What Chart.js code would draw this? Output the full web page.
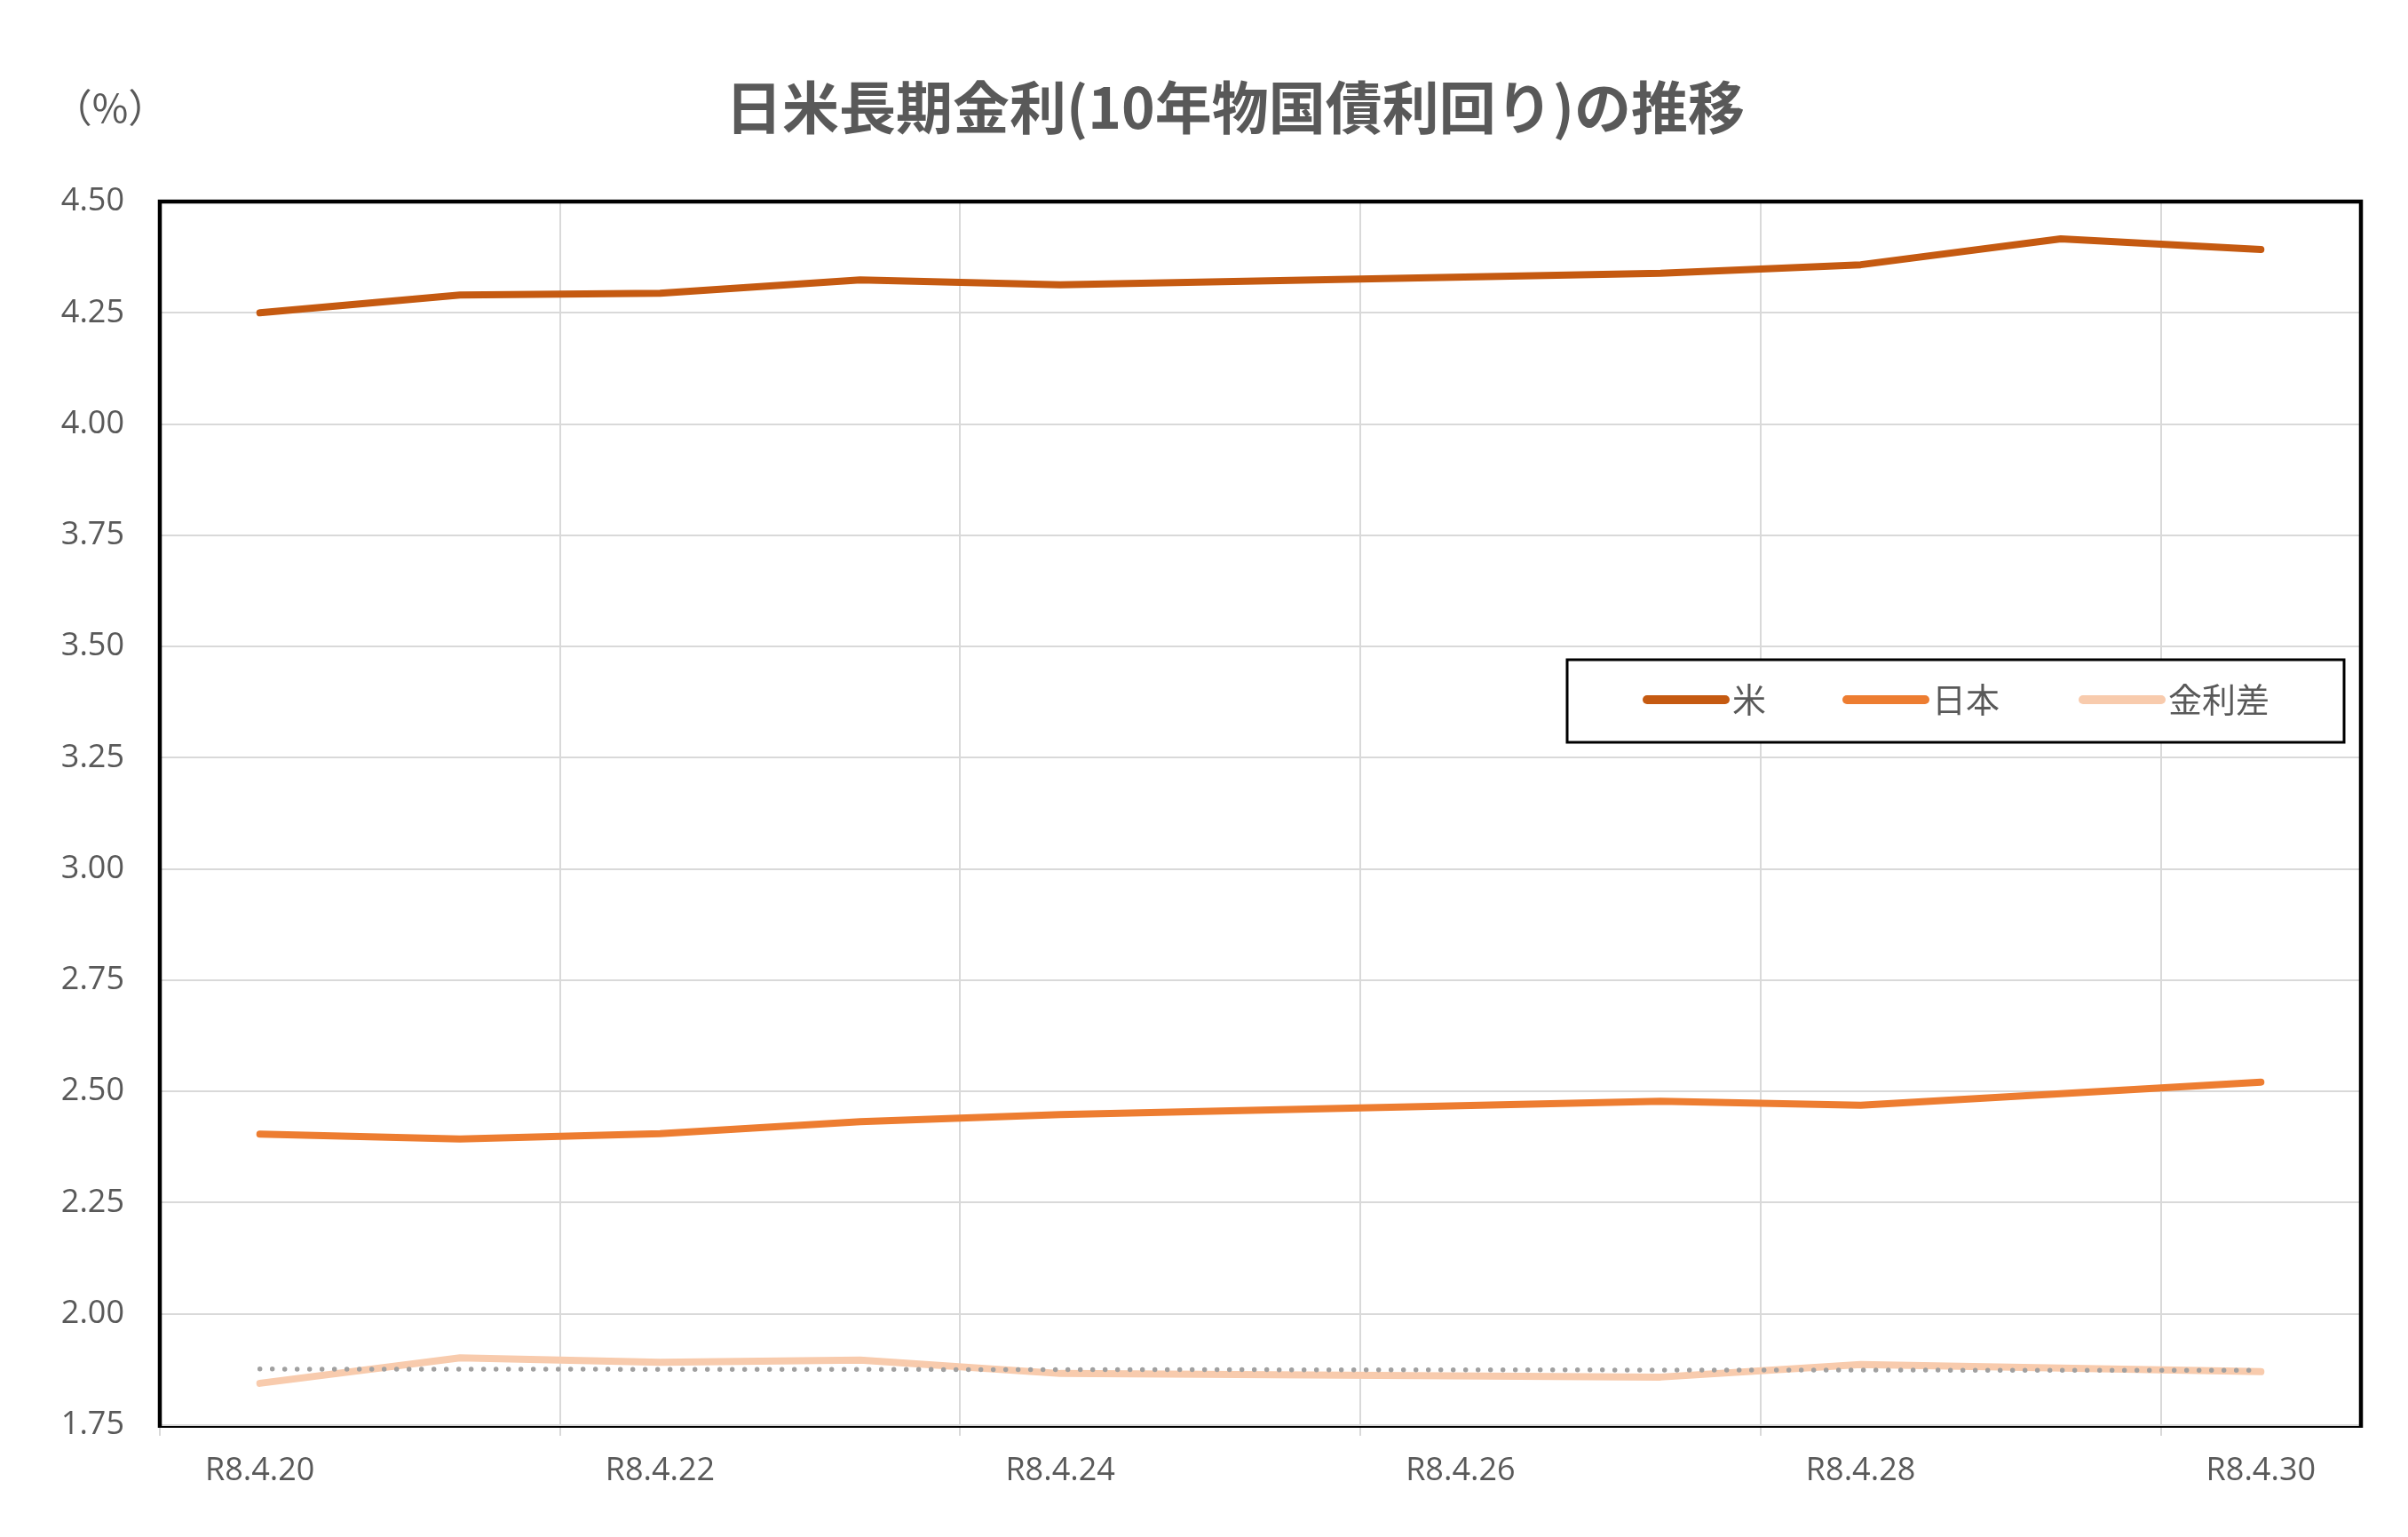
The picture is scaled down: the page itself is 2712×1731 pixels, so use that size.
<!DOCTYPE html>
<html lang="ja">
<head>
<meta charset="utf-8">
<title>日米長期金利(10年物国債利回り)の推移</title>
<script src="https://cdn.jsdelivr.net/npm/chart.js@4.4.1/dist/chart.umd.min.js"></script>
<style>
  html, body { margin: 0; padding: 0; background: #fff; }
  #wrap { position: relative; width: 2712px; height: 1731px; }
</style>
</head>
<body>
<div id="wrap"><canvas id="rateChart" width="2712" height="1731"></canvas></div>
<script>
// dates (weekends / holidays have no value -> null, line spans the gap)
const dates = ['R8.4.20', 'R8.4.21', 'R8.4.22', 'R8.4.23', 'R8.4.24', 'R8.4.25',
               'R8.4.26', 'R8.4.27', 'R8.4.28', 'R8.4.29', 'R8.4.30'];
const usYield = [4.250, 4.290, 4.294, 4.324, 4.313, null, null, 4.339, 4.358, 4.416, 4.392];
const jpYield = [2.404, 2.393, 2.405, 2.432, 2.448, null, null, 2.478, 2.469, null, 2.521];
const spread  = [1.844, 1.901, 1.891, 1.896, 1.866, null, null, 1.858, 1.886, null, 1.870];
// dotted trend line of the spread, read at both ends
const spreadTrend = [1.876, null, null, null, null, null, null, null, null, null, 1.873];
const yTicks = { min: 1.75, max: 4.50, step: 0.25 };

const textColor = '#595959';
const gridColor = '#D9D9D9';
const numFont = '"Open Sans", "Liberation Sans", sans-serif';
const jpFont = '"Noto Sans CJK JP", "Noto Sans", sans-serif';

// title, unit label, frame and legend box are drawn here
const decorPlugin = {
    id: 'decor',
    afterDraw(chart) {
        const { ctx, chartArea: a } = chart;
        ctx.save();

        // title
        ctx.fillStyle = textColor;
        ctx.textAlign = 'center';
        ctx.textBaseline = 'middle';
        ctx.font = 'bold 64px ' + jpFont;
        ctx.fillText('日米長期金利(10年物国債利回り)の推移', 1391, 121);

        // unit
        ctx.font = '44px ' + jpFont;
        ctx.fillText('（%）', 124, 121);

        // plot frame
        ctx.strokeStyle = '#000';
        ctx.lineWidth = 4.5;
        ctx.beginPath();
        ctx.moveTo(a.left, a.bottom + 3);
        ctx.lineTo(a.left, a.top);
        ctx.lineTo(a.right, a.top);
        ctx.lineTo(a.right, a.bottom + 3);
        ctx.stroke();
        ctx.lineWidth = 2;
        ctx.beginPath();
        ctx.moveTo(a.left, a.bottom + 2);
        ctx.lineTo(a.right, a.bottom + 2);
        ctx.stroke();

        // legend
        ctx.fillStyle = '#fff';
        ctx.fillRect(1765, 743, 875, 93);
        ctx.lineWidth = 3;
        ctx.strokeRect(1765, 743, 875, 93);
        const itemX = [1855, 2080, 2346];
        ctx.font = '38px ' + jpFont;
        ctx.textAlign = 'left';
        chart.data.datasets.slice(0, 3).forEach((ds, i) => {
            ctx.strokeStyle = ds.borderColor;
            ctx.lineWidth = 10;
            ctx.lineCap = 'round';
            ctx.beginPath();
            ctx.moveTo(itemX[i], 788);
            ctx.lineTo(itemX[i] + 88, 788);
            ctx.stroke();
            ctx.fillStyle = textColor;
            ctx.fillText(ds.label, itemX[i] + 96, 788);
        });
        ctx.restore();
    }
};

const lineStyle = {
    borderWidth: 8,
    pointRadius: 0,
    tension: 0,
    spanGaps: true,
    borderJoinStyle: 'round',
    borderCapStyle: 'round'
};

const ctx = document.getElementById('rateChart').getContext('2d');
const rateChart = new Chart(ctx, {
    type: 'line',
    data: {
        labels: dates,
        datasets: [
            { label: '米', data: usYield, borderColor: '#C55A11', ...lineStyle },
            { label: '日本', data: jpYield, borderColor: '#ED7D31', ...lineStyle },
            { label: '金利差', data: spread, borderColor: '#F8CBAD', ...lineStyle },
            {
                label: '線形 (金利差)',
                data: spreadTrend,
                borderColor: '#A0A0A0',
                borderWidth: 5.5,
                borderDash: [0, 14],
                borderCapStyle: 'round',
                pointRadius: 0,
                spanGaps: true,
                order: -1
            }
        ]
    },
    options: {
        responsive: false,
        animation: false,
        devicePixelRatio: 1,
        layout: { padding: { top: 227, right: 53, bottom: 0, left: 0 } },
        plugins: {
            legend: { display: false },
            title: { display: false },
            tooltip: { enabled: false }
        },
        scales: {
            x: {
                type: 'category',
                offset: true,
                afterFit: (s) => { s.height = 126; },
                grid: {
                    offset: true,
                    lineWidth: 2,
                    tickLength: 12,
                    color: (c) => (c.index > 0 && c.index % 2 === 0) ? gridColor : 'rgba(0,0,0,0)',
                    tickColor: (c) => (c.index !== undefined && c.index % 2 === 0) ? gridColor : 'rgba(0,0,0,0)'
                },
                border: { color: gridColor, width: 2 },
                ticks: {
                    autoSkip: false,
                    maxRotation: 0,
                    padding: 18,
                    color: textColor,
                    font: { family: numFont, size: 36 },
                    callback: (v, i) => (i % 2 === 0 ? dates[i] : '')
                }
            },
            y: {
                min: yTicks.min,
                max: yTicks.max,
                afterFit: (s) => { s.width = 180; },
                grid: { color: gridColor, lineWidth: 2, drawTicks: false },
                border: { display: false },
                ticks: {
                    stepSize: yTicks.step,
                    padding: 40,
                    color: textColor,
                    font: { family: numFont, size: 36 },
                    callback: (v) => v.toFixed(2)
                }
            }
        }
    },
    plugins: [decorPlugin]
});
</script>
</body>
</html>
